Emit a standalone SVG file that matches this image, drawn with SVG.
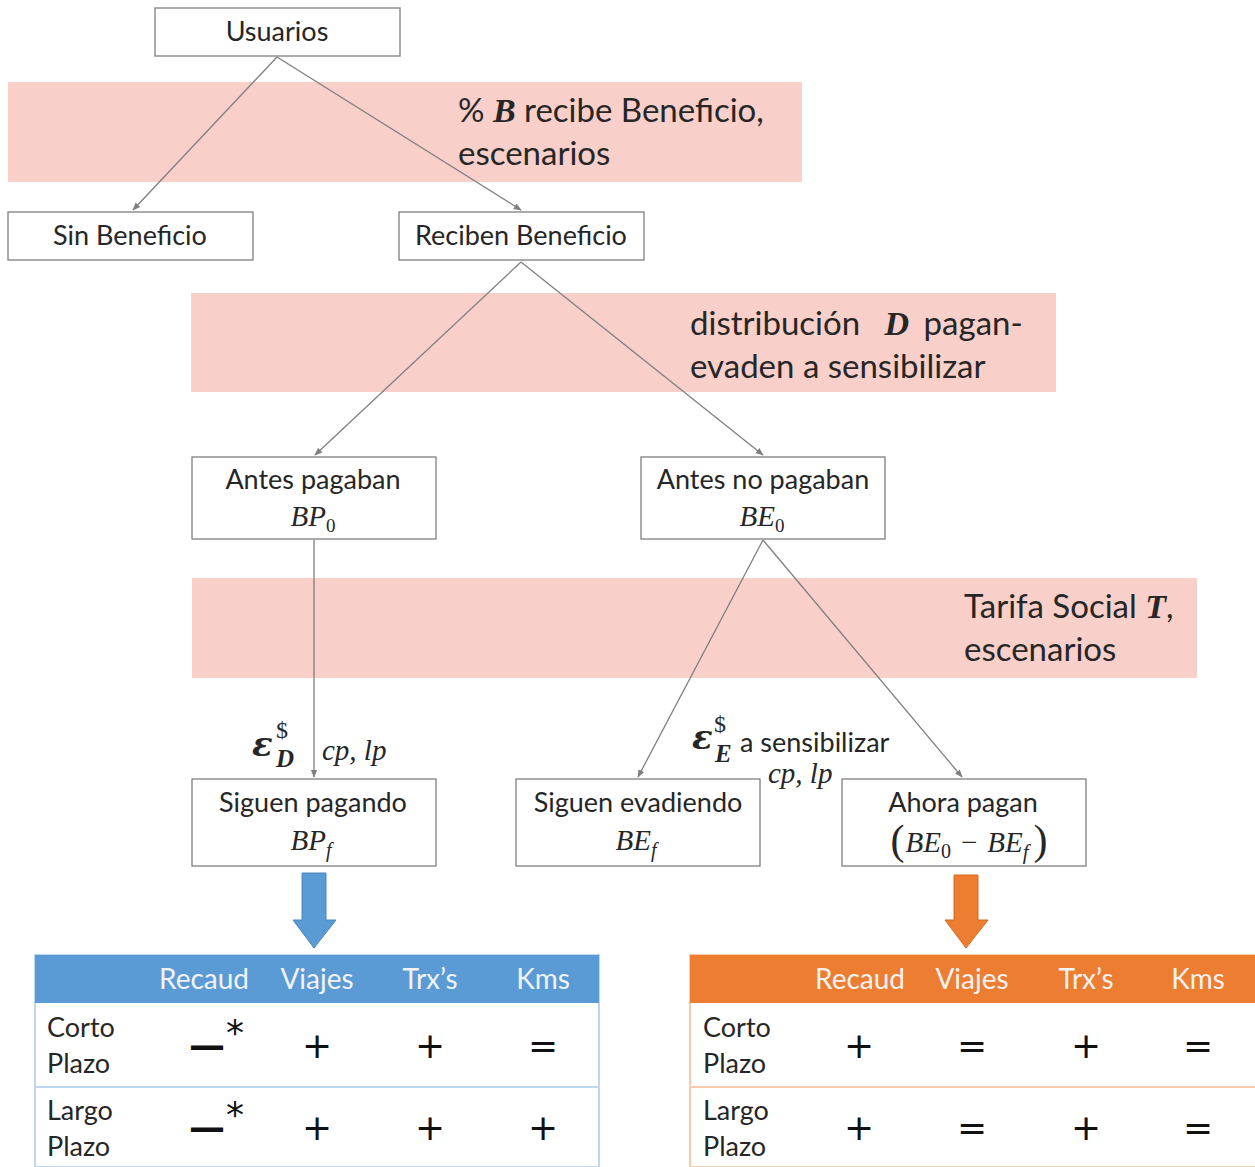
<svg xmlns="http://www.w3.org/2000/svg" width="1255" height="1167" viewBox="0 0 1255 1167">
  <style>
    .box { fill: #ffffff; stroke: #7f7f7f; stroke-width: 1.3; }
    .band { fill: #f8cfc9; }
    .lbl { font-family: Lato, "Open Sans", sans-serif; font-size: 27px; fill: #262626; text-anchor: middle; }
    .band-t { font-family: Lato, "Open Sans", sans-serif; font-size: 33px; fill: #262626; }
    .math { font-family: "Liberation Serif", "DejaVu Serif", serif; font-style: italic; font-size: 29px; fill: #262626; }
    .mathb { font-family: "Liberation Serif", "DejaVu Serif", serif; font-style: italic; font-weight: bold; fill: #262626; }
    .eps { font-family: "DejaVu Serif", "Liberation Serif", serif; font-style: italic; font-weight: bold; font-size: 34px; fill: #262626; }
    .up { font-family: "Liberation Serif", "DejaVu Serif", serif; font-style: normal; fill: #262626; }
    .conn { stroke: #7f7f7f; stroke-width: 1.3; fill: none; marker-end: url(#ah); }
    .th { font-family: Lato, "Open Sans", sans-serif; font-size: 28px; fill: #f2f2f2; text-anchor: middle; }
    .rl { font-family: Lato, "Open Sans", sans-serif; font-size: 27px; fill: #262626; }
    .sym { font-family: "DejaVu Sans", sans-serif; font-size: 36px; fill: #111111; text-anchor: middle; }
  </style>
  <defs>
    <marker id="ah" viewBox="0 0 10 10" refX="9" refY="5" markerWidth="8" markerHeight="8" orient="auto" markerUnits="userSpaceOnUse">
      <path d="M0,1 L10,5 L0,9 z" fill="#7f7f7f"/>
    </marker>
  </defs>

  <rect width="1255" height="1167" fill="#ffffff"/>

  <!-- scenario bands -->
  <g id="bands">
    <rect class="band" x="8" y="82" width="794" height="100"/>
    <rect class="band" x="191" y="293" width="865" height="99"/>
    <rect class="band" x="192" y="578" width="1005" height="100"/>
    <text class="band-t" x="458" y="122">% <tspan class="mathb" font-size="34">B</tspan> recibe Beneficio,</text>
    <text class="band-t" x="458" y="165">escenarios</text>
    <text class="band-t" x="690" y="335">distribución <tspan dx="16" class="mathb" font-size="34">D</tspan> <tspan dx="6">pagan-</tspan></text>
    <text class="band-t" x="690" y="378">evaden a sensibilizar</text>
    <text class="band-t" x="964" y="618">Tarifa Social <tspan class="mathb" font-size="34">T</tspan>,</text>
    <text class="band-t" x="964" y="661">escenarios</text>
  </g>

  <!-- connectors -->
  <g id="connectors">
    <line class="conn" x1="277" y1="57" x2="133" y2="210"/>
    <line class="conn" x1="277" y1="57" x2="521" y2="210"/>
    <line class="conn" x1="521" y1="262" x2="315" y2="455"/>
    <line class="conn" x1="521" y1="262" x2="763" y2="455"/>
    <line class="conn" x1="314" y1="540" x2="314" y2="777"/>
    <line class="conn" x1="763" y1="540" x2="638" y2="777"/>
    <line class="conn" x1="763" y1="540" x2="962" y2="777"/>
  </g>

  <!-- connector labels: elasticities -->
  <g id="edge-labels">
    <text class="eps" x="252" y="756">ε</text>
    <text class="up" x="276" y="738" font-size="24">$</text>
    <text class="mathb" x="276" y="767" font-size="25">D</text>
    <text class="math" x="322" y="760" font-size="27">cp, lp</text>
    <text class="eps" x="692" y="749">ε</text>
    <text class="up" x="714" y="732" font-size="24">$</text>
    <text class="mathb" x="715" y="762" font-size="25">E</text>
    <text class="rl" x="740" y="752" font-size="26">a sensibilizar</text>
    <text class="math" x="768" y="783" font-size="27">cp, lp</text>
  </g>

  <!-- nodes -->
  <g id="usuarios">
    <rect class="box" x="155" y="8" width="245" height="48"/>
    <text class="lbl" x="277" y="41">Usuarios</text>
  </g>
  <g id="sin-beneficio">
    <rect class="box" x="8" y="212" width="245" height="48"/>
    <text class="lbl" x="130" y="245">Sin Beneficio</text>
  </g>
  <g id="reciben-beneficio">
    <rect class="box" x="399" y="212" width="245" height="48"/>
    <text class="lbl" x="521" y="245">Reciben Beneficio</text>
  </g>
  <g id="antes-pagaban">
    <rect class="box" x="192" y="457" width="244" height="82"/>
    <text class="lbl" x="313" y="489">Antes pagaban</text>
    <text class="math" x="313" y="526" text-anchor="middle">BP<tspan class="up" font-size="19" dy="6">0</tspan></text>
  </g>
  <g id="antes-no-pagaban">
    <rect class="box" x="641" y="457" width="244" height="82"/>
    <text class="lbl" x="763" y="489">Antes no pagaban</text>
    <text class="math" x="762" y="526" text-anchor="middle">BE<tspan class="up" font-size="19" dy="6">0</tspan></text>
  </g>
  <g id="siguen-pagando">
    <rect class="box" x="192" y="779" width="244" height="87"/>
    <text class="lbl" x="313" y="812">Siguen pagando</text>
    <text class="math" x="311" y="850" text-anchor="middle">BP<tspan font-size="20" dy="7">f</tspan></text>
  </g>
  <g id="siguen-evadiendo">
    <rect class="box" x="516" y="779" width="244" height="87"/>
    <text class="lbl" x="638" y="812">Siguen evadiendo</text>
    <text class="math" x="636" y="850" text-anchor="middle">BE<tspan font-size="20" dy="7">f</tspan></text>
  </g>
  <g id="ahora-pagan">
    <rect class="box" x="842" y="779" width="244" height="87"/>
    <text class="lbl" x="963" y="812">Ahora pagan</text>
    <text class="math" x="969" y="852" text-anchor="middle" font-size="31"><tspan class="up" font-size="42" dy="2">(</tspan><tspan dx="1" dy="-2">BE</tspan><tspan class="up" font-size="20" dy="6">0</tspan><tspan class="up" dx="10" dy="-6">−</tspan><tspan dx="10">BE</tspan><tspan font-size="21" dy="7">f</tspan><tspan class="up" font-size="42" dx="5" dy="-5">)</tspan></text>
  </g>

  <!-- block arrows into the tables -->
  <g id="arrow-blue">
    <path d="M302,873 H326 V920 H336 L314,948 L293,920 H302 Z" fill="#5b9bd5" stroke="#4a86bf" stroke-width="1"/>
  </g>
  <g id="arrow-orange">
    <path d="M954,875 H978 V920 H988 L966,948 L945,920 H954 Z" fill="#ed7d31" stroke="#d56b22" stroke-width="1"/>
  </g>

  <!-- effects table: those who keep paying -->
  <g id="table-blue">
    <rect x="35" y="955" width="564" height="212" fill="#ffffff" stroke="#bdd7ee" stroke-width="2"/>
    <rect x="35" y="955" width="564" height="48" fill="#5b9bd5"/>
    <line x1="35" y1="1087" x2="599" y2="1087" stroke="#bdd7ee" stroke-width="2"/>
    <text class="th" x="204" y="989">Recaud</text>
    <text class="th" x="317" y="989">Viajes</text>
    <text class="th" x="430" y="989">Trx’s</text>
    <text class="th" x="543" y="989">Kms</text>
    <text class="rl" x="47" y="1037">Corto</text>
    <text class="rl" x="47" y="1073">Plazo</text>
    <text class="rl" x="47" y="1120">Largo</text>
    <text class="rl" x="47" y="1156">Plazo</text>
    <text class="sym" x="207" y="1058" font-weight="bold">—</text>
    <text class="sym" x="235" y="1045" font-size="22">*</text>
    <text class="sym" x="317" y="1058">+</text>
    <text class="sym" x="430" y="1058">+</text>
    <text class="sym" x="543" y="1058">=</text>
    <text class="sym" x="207" y="1140" font-weight="bold">—</text>
    <text class="sym" x="235" y="1127" font-size="22">*</text>
    <text class="sym" x="317" y="1140">+</text>
    <text class="sym" x="430" y="1140">+</text>
    <text class="sym" x="543" y="1140">+</text>
  </g>

  <!-- effects table: those who now pay -->
  <g id="table-orange">
    <rect x="690" y="955" width="570" height="212" fill="#ffffff" stroke="#f8cbad" stroke-width="2"/>
    <rect x="690" y="955" width="570" height="48" fill="#ed7d31"/>
    <line x1="690" y1="1087" x2="1255" y2="1087" stroke="#f8cbad" stroke-width="2"/>
    <text class="th" x="860" y="989">Recaud</text>
    <text class="th" x="972" y="989">Viajes</text>
    <text class="th" x="1086" y="989">Trx’s</text>
    <text class="th" x="1198" y="989">Kms</text>
    <text class="rl" x="703" y="1037">Corto</text>
    <text class="rl" x="703" y="1073">Plazo</text>
    <text class="rl" x="703" y="1120">Largo</text>
    <text class="rl" x="703" y="1156">Plazo</text>
    <text class="sym" x="859" y="1058">+</text>
    <text class="sym" x="972" y="1058">=</text>
    <text class="sym" x="1086" y="1058">+</text>
    <text class="sym" x="1198" y="1058">=</text>
    <text class="sym" x="859" y="1140">+</text>
    <text class="sym" x="972" y="1140">=</text>
    <text class="sym" x="1086" y="1140">+</text>
    <text class="sym" x="1198" y="1140">=</text>
  </g>
</svg>
